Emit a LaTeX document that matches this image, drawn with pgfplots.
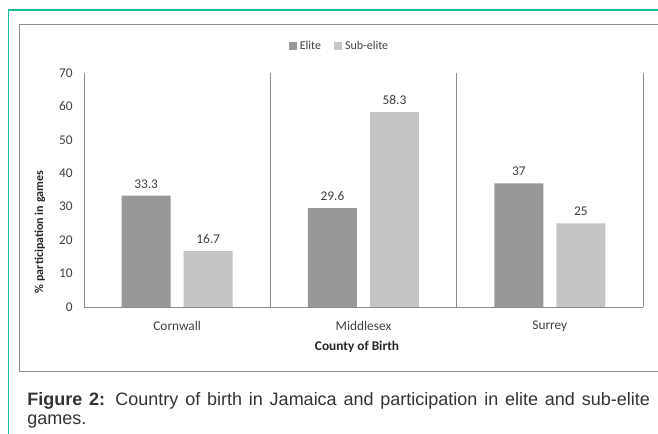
\documentclass[border=0pt]{standalone}
\usepackage{fontspec}
\setmainfont{Carlito}
\newfontfamily\arial{Liberation Sans}
\usepackage{pgfplots}
\pgfplotsset{compat=1.18}
\definecolor{elite}{RGB}{152,152,152}
\definecolor{subelite}{RGB}{196,196,196}
\definecolor{teal2}{RGB}{26,188,156}
\definecolor{txt}{RGB}{64,64,64}
\definecolor{frame}{RGB}{140,140,140}
\begin{document}
\begin{tikzpicture}[x=0.75pt,y=0.75pt]
\path[use as bounding box] (0,0) rectangle (658,434);
\draw[teal2, line width=0.9pt] (8.5,0) -- (8.5,424) -- (658,424);
\draw[frame, line width=0.75pt] (658,409) -- (19.5,409) -- (19.5,62) -- (658,62);
\begin{axis}[
 at={(63pt,95.25pt)}, anchor=south west, scale only axis,
 width=419.25pt, height=175.5pt,
 xmin=-0.5, xmax=2.5, ymin=0, ymax=70,
 ybar=9.75pt, bar width=36.75pt,
 axis x line*=bottom, axis y line*=left, axis line style={frame, -},
 xtick={0,1,2}, xticklabels={Cornwall,Middlesex,Surrey},
 ytick={0,10,...,70},
 major tick length=0pt,
 tick label style={font=\fontsize{10}{12}\selectfont, text=txt},
 xticklabel style={yshift=-7pt},
 yticklabel style={xshift=-5pt},
 /pgf/number format/assume math mode=true,
 nodes near coords,
 nodes near coords style={font=\fontsize{10}{12}\selectfont, text=txt, yshift=2pt},
 legend style={at={(0.458,1.115)}, anchor=center, draw=none, fill=none, legend columns=2, font=\fontsize{9}{11}\selectfont, text=txt, /tikz/every even column/.append style={column sep=8pt}},
 legend image code/.code={\fill[#1] (0pt,-3pt) rectangle (6pt,3pt);},
 clip=false,
]
\addplot[fill=elite, draw=none] coordinates {(0,33.3) (1,29.6) (2,37)};
\addplot[fill=subelite, draw=none] coordinates {(0,16.7) (1,58.3) (2,25)};
\legend{Elite,Sub-elite}
\draw[frame] (axis cs:0.5,0) -- (axis cs:0.5,70);
\draw[frame] (axis cs:1.5,0) -- (axis cs:1.5,70);
\draw[frame] (axis cs:2.5,0) -- (axis cs:2.5,70);
\end{axis}
\node[rotate=90, font=\bfseries\fontsize{9}{11}\selectfont, text=black!85] at (40,202) {\% participation in games};
\node[font=\bfseries\fontsize{10}{12}\selectfont, text=black!85] at (357,87) {County of Birth};
\node[anchor=north west, inner sep=0pt, text width=467pt, align=justify, font=\arial\fontsize{13.5}{14.5}\selectfont, text=black!80] at (27,42) {\textbf{Figure 2:} Country of birth in Jamaica and participation in elite and sub-elite\linebreak games.};
\end{tikzpicture}
\end{document}
